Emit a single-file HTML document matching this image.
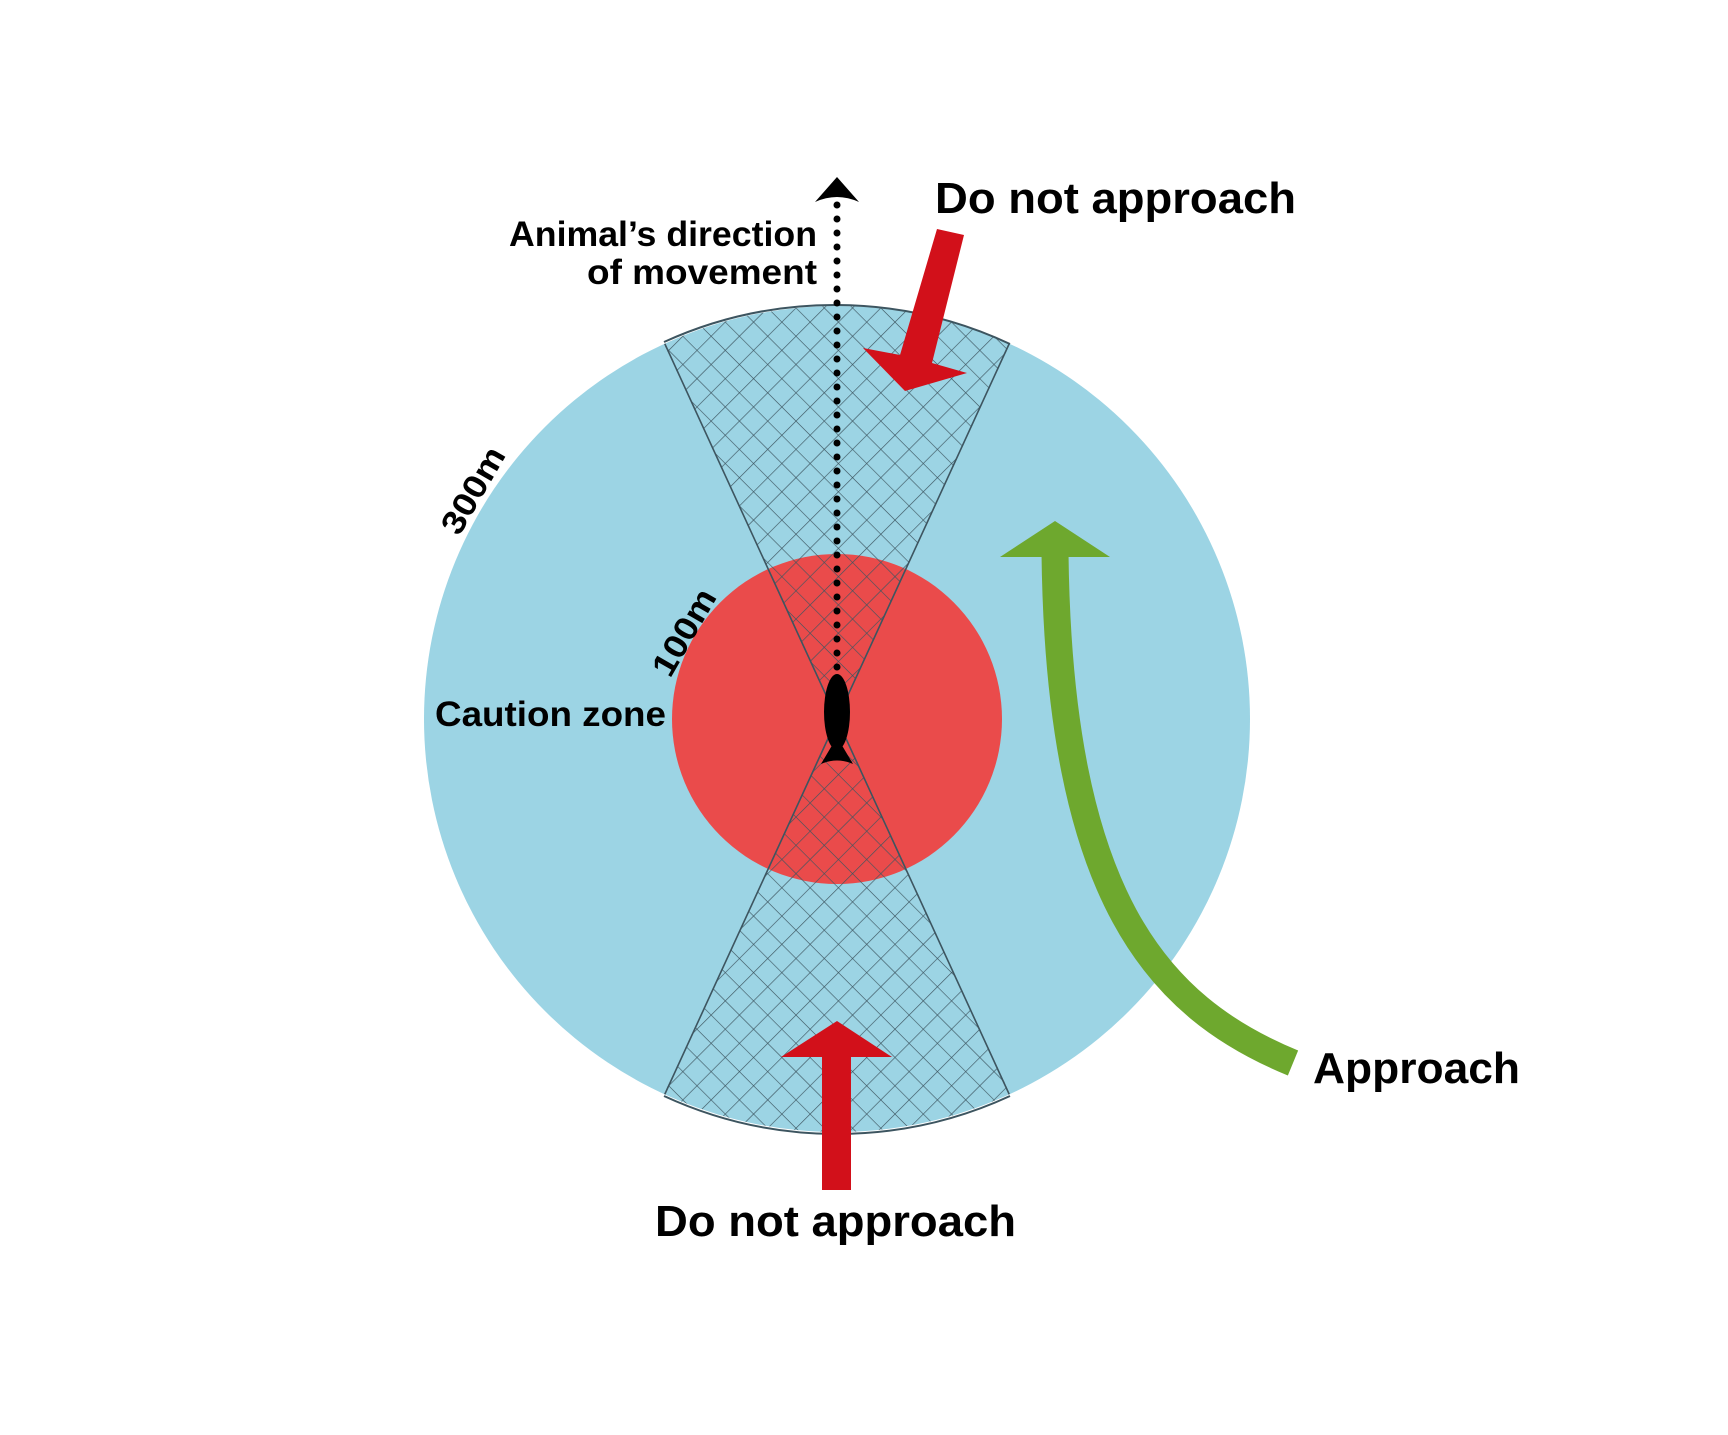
<!DOCTYPE html>
<html><head><meta charset="utf-8"><style>html,body{margin:0;padding:0;background:#fff}svg{display:block}</style></head>
<body>
<svg width="1728" height="1435" viewBox="0 0 1728 1435" xmlns="http://www.w3.org/2000/svg" font-family="Liberation Sans, sans-serif" font-weight="bold">
<defs>
<pattern id="h" width="20" height="20" patternUnits="userSpaceOnUse" patternTransform="rotate(45 840 722)">
<path d="M0 0H20M0 0V20" stroke="#3d5560" stroke-width="1.3" fill="none"/>
</pattern>
<clipPath id="oc"><circle cx="840" cy="722" r="413"/></clipPath>
</defs>
<g transform="translate(-3 -3)">
<circle cx="840" cy="722" r="413" fill="#9cd4e4"/>
<circle cx="840" cy="722" r="165" fill="#ea4b4b"/>
<g clip-path="url(#oc)">
<path d="M840 722 L620 245 L1060 245 Z M840 722 L620 1199 L1060 1199 Z" fill="url(#h)" stroke="none"/>
<path d="M667 345 L840 722 L1013 345 M667 1099 L840 722 L1013 1099" stroke="#3d5560" stroke-width="1.6" fill="none"/>
</g>
<path d="M667 345 A413 413 0 0 1 1013 347" stroke="#3d5560" stroke-width="2" fill="none"/>
<path d="M667 1099 A413 413 0 0 0 1013 1099" stroke="#3d5560" stroke-width="2" fill="none"/>
<line x1="840" y1="208" x2="840" y2="680" stroke="#000" stroke-width="7" stroke-linecap="round" stroke-dasharray="0 14"/>
<path d="M840 180 L862 205 Q840 195 818 205 Z" fill="#000"/>
<ellipse cx="840" cy="715" rx="13" ry="38" fill="#000"/>
<path d="M840 740 L824 767 Q840 760 856 767 Z" fill="#000"/>
<path d="M940 232 L967 238 L935 366 L970 376 L908 394 L866 351 L903 358 Z" fill="#d2101a"/>
<path d="M825 1193 L825 1060 L784 1060 L840 1024 L895 1060 L854 1060 L854 1193 Z" fill="#d2101a"/>
<path d="M1296 1066 C1160 1010 1062 900 1058 556" stroke="#6ea82e" stroke-width="27" fill="none"/>
<path d="M1058 524 L1113 560 L1003 560 Z" fill="#6ea82e"/>
<text x="938" y="216" font-size="44" textLength="361" lengthAdjust="spacingAndGlyphs">Do not approach</text>
<text x="658" y="1239" font-size="44" textLength="361" lengthAdjust="spacingAndGlyphs">Do not approach</text>
<text x="1316" y="1086" font-size="44" textLength="207" lengthAdjust="spacingAndGlyphs">Approach</text>
<text x="512" y="249" font-size="35" textLength="308" lengthAdjust="spacingAndGlyphs">Animal’s direction</text>
<text x="590" y="287" font-size="35" textLength="230" lengthAdjust="spacingAndGlyphs">of movement</text>
<text x="438" y="729" font-size="35" textLength="231" lengthAdjust="spacingAndGlyphs">Caution zone</text>
<text x="0" y="0" font-size="33" transform="translate(462 540) rotate(-60)" textLength="95" lengthAdjust="spacingAndGlyphs">300m</text>
<text x="0" y="0" font-size="33" transform="translate(673 682) rotate(-60)" textLength="95" lengthAdjust="spacingAndGlyphs">100m</text>
</g>
</svg>
</body></html>
